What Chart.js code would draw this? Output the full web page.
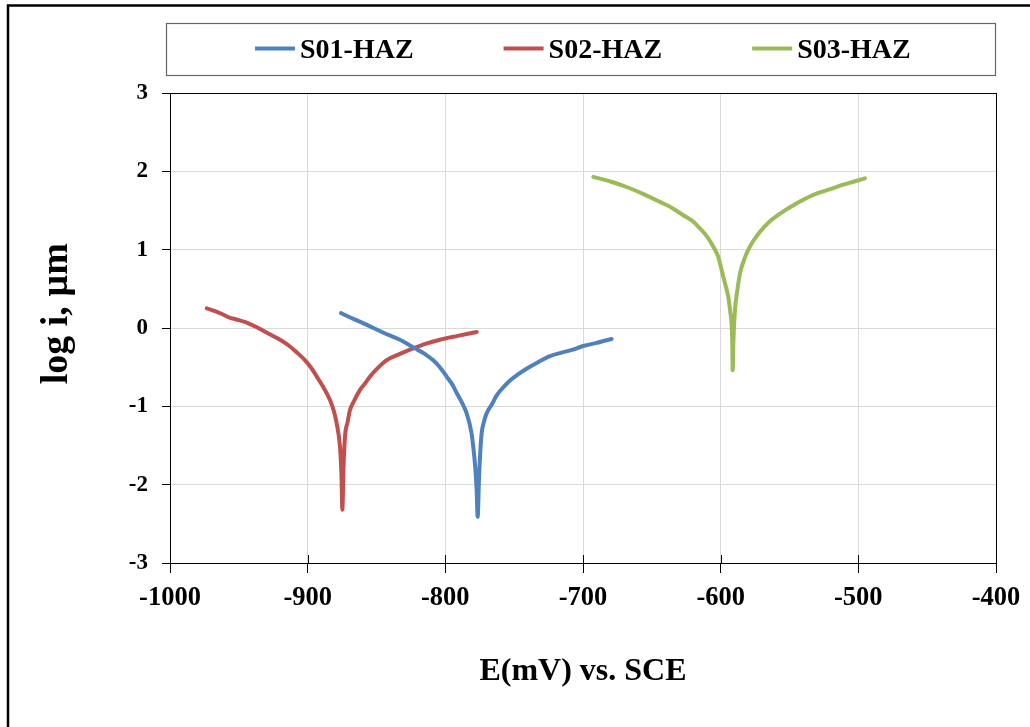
<!DOCTYPE html>
<html>
<head>
<meta charset="utf-8">
<script src="https://cdn.jsdelivr.net/npm/chart.js@4/dist/chart.umd.min.js"></script>
<style>
  html, body { margin: 0; padding: 0; background: #fff; }
  #wrap { width: 1030px; height: 727px; }
</style>
</head>
<body>
<div id="wrap"><canvas id="c" width="1030" height="727"></canvas></div>
<script>
// ---- data ----
const seriesNames = ['S01-HAZ', 'S02-HAZ', 'S03-HAZ'];
const seriesColors = ['#4F81BD', '#C0504D', '#9BBB59'];

const s01E = [-875.8, -866, -857, -845, -833, -822, -815, -809, -804, -799, -795, -791.7, -788, -784.5, -781, -779.5, -778.5, -777.3, -776.5, -775.6, -774.5, -773.6, -772, -770, -766, -762.7, -758, -753, -747, -741, -733, -724, -716.7, -708, -699.8, -690, -679.2];
const s01LogI = [0.19, 0.11, 0.04, -0.06, -0.15, -0.26, -0.33, -0.41, -0.50, -0.62, -0.72, -0.83, -0.95, -1.09, -1.34, -1.55, -1.73, -2.05, -2.41, -1.95, -1.55, -1.34, -1.20, -1.09, -0.97, -0.86, -0.76, -0.67, -0.59, -0.52, -0.44, -0.36, -0.32, -0.28, -0.23, -0.19, -0.14];

const s02E = [-973.3, -965, -957.7, -950, -943, -936, -928.6, -921, -914, -908, -902, -897, -893.4, -888.5, -883.8, -881, -878.9, -876.5, -875.5, -874.8, -874, -872.9, -871, -869.3, -866, -862, -858, -854.7, -849, -842.6, -833, -823.3, -814, -804, -791, -777.2];
const s02LogI = [0.25, 0.20, 0.14, 0.10, 0.06, 0.00, -0.07, -0.14, -0.22, -0.31, -0.41, -0.52, -0.62, -0.76, -0.92, -1.06, -1.22, -1.52, -1.85, -2.32, -1.80, -1.39, -1.20, -1.05, -0.92, -0.79, -0.70, -0.62, -0.51, -0.41, -0.33, -0.26, -0.20, -0.15, -0.10, -0.05];

const s03E = [-692.5, -680, -668.3, -656, -644.1, -635, -627.2, -620, -615, -610, -605.4, -602, -599.3, -597, -594.5, -593, -592, -591.5, -591.3, -590.7, -589.6, -588, -585.9, -583, -579.9, -576, -571.4, -565, -556.9, -545, -532.7, -521, -510.9, -503, -495.2];
const s03LogI = [1.93, 1.87, 1.80, 1.71, 1.61, 1.53, 1.44, 1.36, 1.27, 1.17, 1.04, 0.92, 0.74, 0.58, 0.40, 0.20, 0.03, -0.25, -0.54, -0.15, 0.23, 0.47, 0.70, 0.87, 1.00, 1.12, 1.23, 1.35, 1.46, 1.59, 1.70, 1.77, 1.83, 1.87, 1.91];

const xTicks = [-1000, -900, -800, -700, -600, -500, -400];
const yTicks = [-3, -2, -1, 0, 1, 2, 3];

const xTitle = 'E(mV) vs. SCE';
const yTitle = 'log i, µm';

// ---- build ----
function pts(xs, ys) { return xs.map((x, i) => ({ x: x, y: ys[i] })); }
const allE = [s01E, s02E, s03E];
const allI = [s01LogI, s02LogI, s03LogI];

const SERIF = "'Liberation Serif', 'Times New Roman', serif";

const datasets = seriesNames.map((name, k) => ({
  label: name,
  data: pts(allE[k], allI[k]),
  showLine: true,
  borderColor: seriesColors[k],
  backgroundColor: seriesColors[k],
  borderWidth: 4,
  pointRadius: 0,
  cubicInterpolationMode: 'monotone',
  borderJoinStyle: 'round',
  borderCapStyle: 'round'
}));

const decor = {
  id: 'decor',
  beforeDraw(chart) {
    const ctx = chart.ctx;
    ctx.save();
    ctx.fillStyle = '#fff';
    ctx.fillRect(0, 0, chart.width, chart.height);
    // outer frame (top & left visible)
    ctx.strokeStyle = '#000';
    ctx.lineWidth = 2.5;
    ctx.beginPath();
    ctx.moveTo(8, 727);
    ctx.lineTo(8, 5.5);
    ctx.lineTo(1030, 5.5);
    ctx.stroke();
    ctx.restore();
  },
  beforeDatasetsDraw(chart) {
    const ctx = chart.ctx;
    const a = chart.chartArea;
    ctx.save();
    ctx.strokeStyle = '#000';
    ctx.lineWidth = 1;
    ctx.strokeRect(Math.round(a.left) + 0.5, Math.round(a.top) + 0.5, Math.round(a.right - a.left), Math.round(a.bottom - a.top));
    // inner part of x tick marks (cross ticks)
    const xs = chart.scales.x;
    ctx.beginPath();
    xTicks.forEach(v => {
      const px = Math.round(xs.getPixelForValue(v)) + 0.5;
      ctx.moveTo(px, a.bottom);
      ctx.lineTo(px, a.bottom - 8);
    });
    ctx.stroke();
    ctx.restore();
  },
  afterDraw(chart) {
    const ctx = chart.ctx;
    ctx.save();
    // legend box
    ctx.strokeStyle = '#666';
    ctx.lineWidth = 1.2;
    ctx.strokeRect(166.5, 23.5, 829, 52);
    ctx.font = "bold 28px " + SERIF;
    ctx.textBaseline = 'alphabetic';
    ctx.fillStyle = '#000';
    let x = 255;
    chart.data.datasets.forEach(ds => {
      ctx.strokeStyle = ds.borderColor;
      ctx.lineWidth = 4;
      ctx.beginPath();
      ctx.moveTo(x, 48.5);
      ctx.lineTo(x + 40, 48.5);
      ctx.stroke();
      ctx.fillText(ds.label, x + 45, 58);
      x += 45 + ctx.measureText(ds.label).width + 90;
    });
    ctx.restore();
  }
};

new Chart(document.getElementById('c'), {
  type: 'scatter',
  data: { datasets: datasets },
  options: {
    responsive: false,
    devicePixelRatio: 1,
    animation: false,
    layout: { padding: { top: 93, right: 34, left: 0, bottom: 0 } },
    plugins: { legend: { display: false }, tooltip: { enabled: false } },
    scales: {
      x: {
        type: 'linear',
        min: xTicks[0],
        max: xTicks[xTicks.length - 1],
        afterBuildTicks(s) { s.ticks = xTicks.map(v => ({ value: v })); },
        afterFit(s) { s.height = 164; },
        ticks: {
          callback: v => String(v),
          color: '#000',
          font: { family: SERIF, size: 26.5, weight: 'bold' },
          padding: 9,
          maxRotation: 0,
          autoSkip: false
        },
        grid: { color: '#d9d9d9', lineWidth: 1, tickColor: '#000', tickLength: 10 },
        border: { color: '#000', width: 1 },
        title: {
          display: true,
          text: xTitle,
          color: '#000',
          font: { family: SERIF, size: 32, weight: 'bold' },
          padding: { top: 0, bottom: 36 }
        }
      },
      y: {
        type: 'linear',
        min: yTicks[0],
        max: yTicks[yTicks.length - 1],
        afterBuildTicks(s) { s.ticks = yTicks.map(v => ({ value: v })); },
        afterFit(s) { s.width = 170; },
        ticks: {
          callback: v => String(v),
          color: '#000',
          font: { family: SERIF, size: 23, weight: 'bold' },
          padding: 14
        },
        grid: { color: '#d9d9d9', lineWidth: 1, tickColor: '#000', tickLength: 8 },
        border: { color: '#000', width: 1 },
        title: {
          display: true,
          text: '   ' + yTitle,
          color: '#000',
          font: { family: SERIF, size: 38, weight: 'bold' },
          padding: { top: 34, bottom: 0 }
        }
      }
    }
  },
  plugins: [decor]
});
</script>
</body>
</html>
